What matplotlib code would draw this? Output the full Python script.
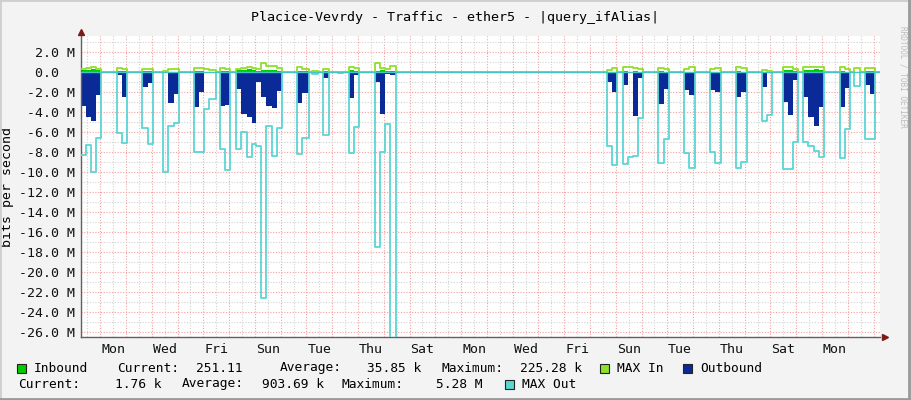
import matplotlib
matplotlib.use('Agg')
import matplotlib.pyplot as plt
from matplotlib.patches import Rectangle
import numpy as np

# time in hours from the first Monday 00:00, values in Mbit/s (step series)
t_hours = [
    -17.9, -13.0, -8.4, -3.7, 0.9,
    15.2, 20.3, 25.1,
    39.1, 44.5, 49.3,
    58.9, 63.5, 68.6, 73.8,
    87.3, 92.4, 97.0, 101.7, 107.7,
    111.9, 116.5, 121.2,
    126.8, 131.4, 136.4, 141.2, 145.4, 149.8, 154.4, 159.6, 164.3, 169.3,
    183.3, 188.2, 194.0,
    197.6, 203.2,
    207.1, 212.6,
    221.7, 226.3,
    231.3, 236.1, 241.2,
    256.1, 260.7, 265.4, 270.0, 275.3,
    471.6, 476.3, 480.9,
    486.5, 491.4, 496.1, 500.7, 505.7,
    519.6, 524.6, 529.6,
    543.8, 548.6, 553.8,
    567.7, 572.6, 577.6,
    591.6, 596.5, 601.8,
    615.8, 620.5, 625.1,
    635.3, 640.2, 644.9, 649.9,
    654.5, 659.3, 664.2, 669.1, 674.0,
    688.6, 693.3, 697.9,
    701.9, 707.2,
    711.9, 716.6, 721.2,
    726.0,
]
out_avg = [
    -3.4, -4.5, -4.9, -2.3, 0,
    -0.3, -2.5, 0,
    -1.5, -1.1, 0,
    -0.1, -3.1, -2.2, 0,
    -3.5, -2.0, -0.1, -0.1, 0,
    -3.4, -3.3, 0,
    -1.7, -4.2, -4.5, -5.1, -1.0, -2.5, -3.4, -3.6, -1.9, 0,
    -3.1, -2.1, 0,
    0, 0,
    -0.6, 0,
    0, 0,
    -2.6, -0.3, 0,
    -1.0, -4.2, -0.2, -0.3, 0,
    -1.0, -2.0, 0,
    -1.3, -0.1, -4.4, -0.6, 0,
    -3.2, -1.7, 0,
    -1.8, -2.3, 0,
    -1.8, -2.0, 0,
    -2.5, -2.0, 0,
    -1.5, -0.1, 0,
    -3.0, -4.3, -0.8, 0,
    -2.5, -4.5, -5.4, -3.5, 0,
    -3.5, -1.6, 0,
    0, 0,
    -1.3, -2.2, 0,
    0,
]
out_max = [
    -8.3, -7.3, -10.0, -6.6, 0,
    -6.1, -7.1, 0,
    -5.6, -7.2, 0,
    -10.0, -5.4, -5.1, 0,
    -8.0, -8.0, -3.7, -2.7, 0,
    -7.7, -9.8, 0,
    -7.7, -6.0, -8.5, -7.2, -7.4, -22.6, -5.4, -8.4, -5.6, 0,
    -8.2, -6.6, 0,
    -0.2, 0,
    -6.3, 0,
    -0.1, 0,
    -8.1, -5.5, 0,
    -17.5, -8.0, -5.2, -30.0, 0,
    -7.4, -9.3, 0,
    -9.2, -8.5, -8.4, -4.6, 0,
    -9.1, -6.7, 0,
    -8.1, -9.6, 0,
    -8.0, -9.1, 0,
    -9.6, -9.0, 0,
    -4.9, -4.3, 0,
    -9.7, -9.7, -7.0, 0,
    -7.0, -7.4, -7.9, -8.5, 0,
    -8.6, -5.7, 0,
    -1.4, 0,
    -6.7, -6.7, 0,
    0,
]
in_avg = [
    0.2, 0.2, 0.3, 0.2, 0,
    0.1, 0.1, 0,
    0.1, 0.1, 0,
    0.05, 0.05, 0.05, 0,
    0.15, 0.1, 0.05, 0.05, 0,
    0.15, 0.1, 0,
    0.2, 0.2, 0.3, 0.2, 0.1, 0.2, 0.2, 0.2, 0.1, 0,
    0.15, 0.1, 0,
    0, 0,
    0.1, 0,
    0, 0,
    0.2, 0.1, 0,
    0.1, 0.2, 0.1, 0.1, 0,
    0.05, 0.05, 0,
    0.1, 0.05, 0.15, 0.05, 0,
    0.15, 0.05, 0,
    0.05, 0.05, 0,
    0.05, 0.05, 0,
    0.15, 0.05, 0,
    0.05, 0.05, 0,
    0.2, 0.2, 0.1, 0,
    0.2, 0.2, 0.3, 0.2, 0,
    0.15, 0.05, 0,
    0, 0,
    0.1, 0.1, 0,
    0,
]
in_max = [
    0.3, 0.4, 0.5, 0.3, 0,
    0.4, 0.3, 0,
    0.3, 0.3, 0,
    0.1, 0.3, 0.3, 0,
    0.4, 0.4, 0.3, 0.2, 0,
    0.4, 0.3, 0,
    0.3, 0.4, 0.5, 0.4, 0.3, 0.9, 0.6, 0.6, 0.4, 0,
    0.5, 0.3, 0,
    0.1, 0,
    0.3, 0,
    0.05, 0,
    0.5, 0.4, 0,
    0.9, 0.4, 0.3, 0.6, 0,
    0.2, 0.4, 0,
    0.5, 0.5, 0.4, 0.3, 0,
    0.4, 0.3, 0,
    0.3, 0.5, 0,
    0.3, 0.4, 0,
    0.5, 0.4, 0,
    0.2, 0.1, 0,
    0.5, 0.5, 0.3, 0,
    0.5, 0.5, 0.5, 0.5, 0,
    0.5, 0.3, 0,
    0.4, 0,
    0.4, 0.4, 0,
    0,
]
day_labels = ['Mon', 'Wed', 'Fri', 'Sun', 'Tue', 'Thu', 'Sat',
              'Mon', 'Wed', 'Fri', 'Sun', 'Tue', 'Thu', 'Sat', 'Mon']
title = 'Placice-Vevrdy - Traffic - ether5 - |query_ifAlias|'

MONO = 'DejaVu Sans Mono'
W, H = 911, 400
c_in, c_inmax = '#00CC00', '#8EE02A'
c_out, c_outmax = '#0A2A98', '#5AD6D4'

fig = plt.figure(figsize=(W / 100, H / 100), dpi=100, facecolor='#F3F3F3')
ax = fig.add_axes([81 / W, 63 / H, (880 - 81) / W, (337 - 36) / H])
ax.set_facecolor('white')
x0, x1 = -17.9, 726.0
y0, y1 = -26.5, 3.6
ax.set_xlim(x0, x1)
ax.set_ylim(y0, y1)

# grid (drawn first, under the data)
for h in np.arange(-12, x1, 12):
    major = h % 24 == 0
    ax.axvline(h, color='#F2A0A0' if major else '#D2D2D2', lw=0.8,
               ls=(0, (1, 1.5)), zorder=0)
for v in np.arange(-26, 4, 1):
    major = v % 2 == 0
    ax.axhline(v, color='#F2A0A0' if major else '#D2D2D2', lw=0.8,
               ls=(0, (1, 1.5)), zorder=0)

t = np.array(t_hours)
ax.fill_between(t, out_avg, step='post', color=c_out, lw=0, zorder=2)
ax.step(t, out_max, where='post', color=c_outmax, lw=1.3, zorder=3)
ax.fill_between(t, in_avg, step='post', color=c_in, lw=0, zorder=2)
ax.step(t, in_max, where='post', color=c_inmax, lw=1.3, zorder=3)
ax.axhline(0, color='#44C4C2', lw=1.0, zorder=4)

# axes
for s in ['top', 'right']:
    ax.spines[s].set_visible(False)
for s in ['left', 'bottom']:
    ax.spines[s].set_color('#606060')
    ax.spines[s].set_linewidth(1.0)
ax.plot([0], [1.012], marker='^', ms=4.5, color='#7A1A1A',
        transform=ax.transAxes, clip_on=False)
ax.plot([1.006], [0], marker='>', ms=4.5, color='#7A1A1A',
        transform=ax.transAxes, clip_on=False)

yt = np.arange(-26, 3, 2)
ax.set_yticks(yt)
ax.set_yticklabels(['0.0  ' if v == 0 else f'{v:.1f} M' for v in yt],
                   family=MONO, fontsize=9.5)
ax.set_xticks([12 + 48 * i for i in range(len(day_labels))])
ax.set_xticklabels(day_labels, family=MONO, fontsize=9.5)
ax.tick_params(length=0, pad=4, colors='#111111')
ax.set_ylabel('bits per second', family=MONO, fontsize=9.5, labelpad=4)

def ftext(x, y, s, **kw):
    kw.setdefault('family', MONO)
    kw.setdefault('fontsize', 9.3)
    kw.setdefault('va', 'center')
    fig.text(x / W, 1 - y / H, s, **kw)

def fbox(x, y, color):
    fig.patches.append(Rectangle((x / W, 1 - (y + 4.5) / H), 9 / W, 9 / H,
                                 transform=fig.transFigure, facecolor=color,
                                 edgecolor='#222222', lw=0.8))

ftext(455, 18, title, ha='center', fontsize=9.6)
ftext(903, 77, 'RRDTOOL / TOBI OETIKER', rotation=270, ha='center',
      fontsize=5.6, color='#BDBDBD')

# legend row 1
r1, r2 = 368, 384
fbox(17, r1, c_in)
ftext(34, r1, 'Inbound')
ftext(117, r1, 'Current:')
ftext(196, r1, '251.11')
ftext(280, r1, 'Average:')
ftext(367, r1, '35.85 k')
ftext(442, r1, 'Maximum:')
ftext(520, r1, '225.28 k')
fbox(600, r1, c_inmax)
ftext(617, r1, 'MAX In')
fbox(683, r1, c_out)
ftext(700, r1, 'Outbound')
# legend row 2
ftext(18, r2, 'Current:')
ftext(115, r2, '1.76 k')
ftext(182, r2, 'Average:')
ftext(262, r2, '903.69 k')
ftext(342, r2, 'Maximum:')
ftext(436, r2, '5.28 M')
fbox(505, r2, c_outmax)
ftext(522, r2, 'MAX Out')

# image frame
fig.patches.append(Rectangle((0, 0), 1, 1, transform=fig.transFigure,
                             fill=False, edgecolor='#CFCFCF', lw=2))
fig.add_artist(plt.Line2D([0, 1], [0.002, 0.002], color='#9A9A9A', lw=2,
                          transform=fig.transFigure))
fig.add_artist(plt.Line2D([0.998, 0.998], [0, 1], color='#9A9A9A', lw=2,
                          transform=fig.transFigure))

fig.savefig('out.png', dpi=100, facecolor=fig.get_facecolor())
